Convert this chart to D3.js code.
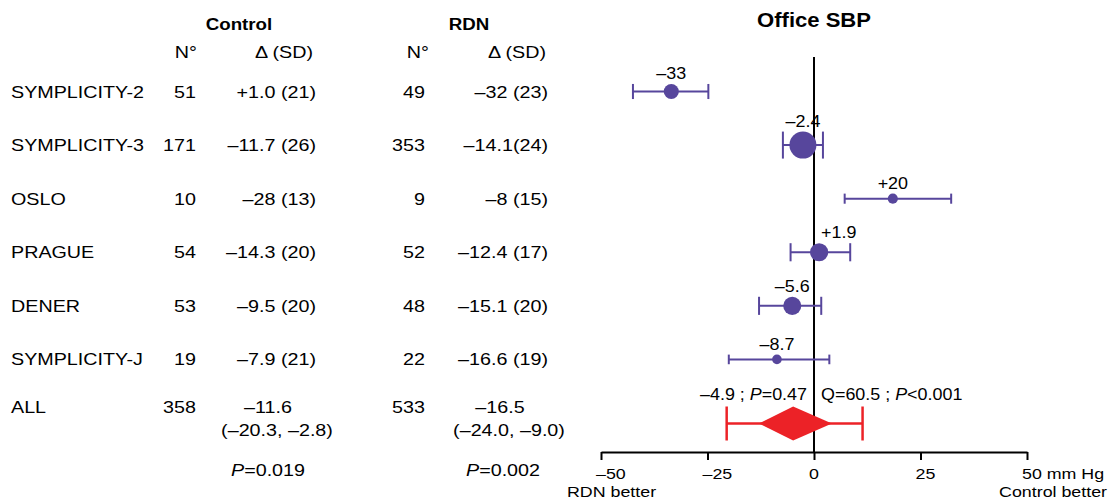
<!DOCTYPE html>
<html>
<head>
<meta charset="utf-8">
<script src="https://cdn.jsdelivr.net/npm/d3@7"></script>
<style>
  body { margin: 0; background: #fff; }
  text { font-family: "Liberation Sans", Arial, sans-serif; fill: #000; }
</style>
</head>
<body>
<svg id="chart"></svg>
<script>
// study-level data
const studies = ['SYMPLICITY-2', 'SYMPLICITY-3', 'OSLO', 'PRAGUE', 'DENER', 'SYMPLICITY-J'];
const controlN = [51, 171, 10, 54, 53, 19];
const controlDelta = ['+1.0 (21)', '–11.7 (26)', '–28 (13)', '–14.3 (20)', '–9.5 (20)', '–7.9 (21)'];
const rdnN = [49, 353, 9, 52, 48, 22];
const rdnDelta = ['–32 (23)', '–14.1(24)', '–8 (15)', '–12.4 (17)', '–15.1 (20)', '–16.6 (19)'];

// forest plot values (mm Hg)
const effect = [-33.5, -2.6, 18.5, 1.2, -5.1, -8.7];
const ciLow = [-42.5, -7.3, 7.2, -5.5, -12.9, -20.0];
const ciHigh = [-24.8, 2.1, 32.2, 8.5, 1.7, 3.6];
const effectLabels = ['–33', '–2.4', '+20', '+1.9', '–5.6', '–8.7'];
const weights = [12.5, 40.0, 5.6, 18.0, 18.0, 5.1];

// pooled
const allLabel = 'ALL';
const allControlN = 358;
const allControlDelta = ['–11.6', '(–20.3, –2.8)'];
const allControlP = '0.019';
const allRdnN = 533;
const allRdnDelta = ['–16.5', '(–24.0, –9.0)'];
const allRdnP = '0.002';
const pooledEffect = -4.9;
const pooledCI = [-12.9, 4.2];
const pooledPI = [-20.5, 11.4];
const pooledP = '0.47';
const heterogeneity = { q: '60.5', p: '<0.001' };

const xTicks = [-50, -25, 0, 25, 50];

const width = 1108, height = 501;
const purple = '#57469c';
const red = '#ec2227';

const svg = d3.select('#chart')
    .attr('width', width)
    .attr('height', height);

// the reference type is a little wide; stretch text horizontally
function label(g, x, y, s, opts = {}) {
    const sx = opts.sx || 1.16;
    return g.append('text')
        .attr('transform', `translate(${x},${y}) scale(${sx},1)`)
        .attr('text-anchor', opts.anchor || 'start')
        .style('font-size', (opts.size || 17) + 'px')
        .style('font-weight', opts.bold ? 'bold' : null)
        .text(s);
}

function labelP(g, x, y, before, after, opts = {}) {
    const t = label(g, x, y, null, opts);
    if (before) t.append('tspan').text(before);
    t.append('tspan').style('font-style', 'italic').text('P');
    t.append('tspan').text(after);
    return t;
}

const rows = [...studies, allLabel];
const y = d3.scalePoint()
    .domain(rows)
    .range([91.5, 413]);

const x = d3.scaleLinear()
    .domain([-50, 50])
    .range([601, 1027]);

const r = d3.scaleSqrt()
    .domain([0, d3.max(weights)])
    .range([0, 13.5]);

const axisY = 452;

// ---- table ----
const cols = { name: 11, cN: 196, cD: 316, rN: 425, rD: 548 };
const elTable = svg.append('g').classed('table', true);

label(elTable, 239, 30, 'Control', { anchor: 'middle', bold: true, sx: 1.1 });
label(elTable, 469, 30, 'RDN', { anchor: 'middle', bold: true, sx: 1.1 });
label(elTable, cols.cN + 1, 58, 'N°', { anchor: 'end' });
label(elTable, cols.cD - 3, 58, 'Δ (SD)', { anchor: 'end' });
label(elTable, cols.rN + 4, 58, 'N°', { anchor: 'end' });
label(elTable, cols.rD - 2, 58, 'Δ (SD)', { anchor: 'end' });

studies.forEach((s, i) => {
    const yy = y(s) + 6;
    label(elTable, cols.name, yy, s);
    label(elTable, cols.cN, yy, controlN[i], { anchor: 'end' });
    label(elTable, cols.cD, yy, controlDelta[i], { anchor: 'end' });
    label(elTable, cols.rN, yy, rdnN[i], { anchor: 'end' });
    label(elTable, cols.rD, yy, rdnDelta[i], { anchor: 'end' });
});

const yAll = y(allLabel);
label(elTable, cols.name, yAll, allLabel);
label(elTable, cols.cN, yAll, allControlN, { anchor: 'end' });
label(elTable, 268, yAll, allControlDelta[0], { anchor: 'middle' });
label(elTable, 277, yAll + 23, allControlDelta[1], { anchor: 'middle' });
labelP(elTable, 268, yAll + 63, '', '=' + allControlP, { anchor: 'middle' });
label(elTable, cols.rN, yAll, allRdnN, { anchor: 'end' });
label(elTable, 500, yAll, allRdnDelta[0], { anchor: 'middle' });
label(elTable, 509, yAll + 23, allRdnDelta[1], { anchor: 'middle' });
labelP(elTable, 503, yAll + 63, '', '=' + allRdnP, { anchor: 'middle' });

// ---- forest plot ----
const elPlot = svg.append('g').classed('forest', true);

label(elPlot, x(0), 27, 'Office SBP', { anchor: 'middle', bold: true, size: 21, sx: 1.05 });

elPlot.append('line')
    .attr('x1', x(0)).attr('x2', x(0))
    .attr('y1', 57).attr('y2', axisY)
    .attr('stroke', '#000')
    .attr('stroke-width', 2);

const elStudies = elPlot.selectAll('g.study')
    .data(studies.map((s, i) => ({ s, i })))
    .join('g')
    .classed('study', true);

elStudies.append('line')
    .attr('x1', d => x(ciLow[d.i])).attr('x2', d => x(ciHigh[d.i]))
    .attr('y1', d => y(d.s)).attr('y2', d => y(d.s))
    .attr('stroke', purple).attr('stroke-width', 2);

[ciLow, ciHigh].forEach(arr => {
    elStudies.append('line')
        .attr('x1', d => x(arr[d.i])).attr('x2', d => x(arr[d.i]))
        .attr('y1', d => y(d.s) - Math.max(4, r(weights[d.i])))
        .attr('y2', d => y(d.s) + Math.max(4, r(weights[d.i])))
        .attr('stroke', purple).attr('stroke-width', 2);
});

elStudies.append('circle')
    .attr('cx', d => x(effect[d.i]))
    .attr('cy', d => y(d.s))
    .attr('r', d => r(weights[d.i]))
    .attr('fill', purple);

elStudies.each(function (d) {
    const v = effect[d.i];
    const yy = y(d.s) - r(weights[d.i]) - 5;
    // small positive estimates sit on the zero line: push the label right of it
    if (v > 0 && v < 3) {
        label(d3.select(this), x(0) + 7, yy, effectLabels[d.i], { size: 16, sx: 1.12 });
    } else {
        label(d3.select(this), x(v), yy, effectLabels[d.i], { anchor: 'middle', size: 16, sx: 1.12 });
    }
});

// pooled estimate
const yd = yAll + 10.5;
const elPooled = elPlot.append('g').classed('pooled', true);
elPooled.append('line')
    .attr('x1', x(pooledPI[0])).attr('x2', x(pooledPI[1]))
    .attr('y1', yd).attr('y2', yd)
    .attr('stroke', red).attr('stroke-width', 2.5);
pooledPI.forEach(v => {
    elPooled.append('line')
        .attr('x1', x(v)).attr('x2', x(v))
        .attr('y1', yd - 17).attr('y2', yd + 17)
        .attr('stroke', red).attr('stroke-width', 2.5);
});
elPooled.append('path')
    .attr('d', d3.line()([
        [x(pooledCI[0]), yd],
        [x(pooledEffect), yd - 17],
        [x(pooledCI[1]), yd],
        [x(pooledEffect), yd + 17]
    ]) + 'Z')
    .attr('fill', red);

labelP(elPooled, x(0) - 7, yAll - 13, '–4.9 ; ', '=' + pooledP, { anchor: 'end', size: 16, sx: 1.12 });
labelP(elPooled, x(0) + 7, yAll - 13, `Q=${heterogeneity.q} ; `, heterogeneity.p, { size: 16, sx: 1.12 });

// ---- axis ----
const axis = d3.axisBottom(x)
    .tickValues(xTicks)
    .tickSize(8)
    .tickSizeOuter(0)
    .tickFormat(d => d === 50 ? '50 mm Hg' : (d < 0 ? '–' + Math.abs(d) : String(d)));

const elAxis = svg.append('g')
    .attr('class', 'axis axis--x')
    .attr('transform', `translate(0,${axisY})`)
    .call(axis);

elAxis.select('.domain').attr('stroke', '#000').attr('stroke-width', 2);
elAxis.selectAll('.tick line').attr('stroke', '#000').attr('stroke-width', 2);
elAxis.selectAll('.tick text')
    .attr('text-anchor', 'start')
    .attr('y', 0).attr('dy', 0)
    .attr('transform', 'translate(-5.5,27) scale(1.15,1)')
    .style('font-family', '"Liberation Sans", Arial, sans-serif')
    .style('font-size', '15.5px')
    .attr('fill', '#000');

label(svg, x(-50) - 34, 497, 'RDN better', { size: 15.5, sx: 1.15 });
label(svg, 1107, 497, 'Control better', { anchor: 'end', size: 15.5, sx: 1.15 });
</script>
</body>
</html>
